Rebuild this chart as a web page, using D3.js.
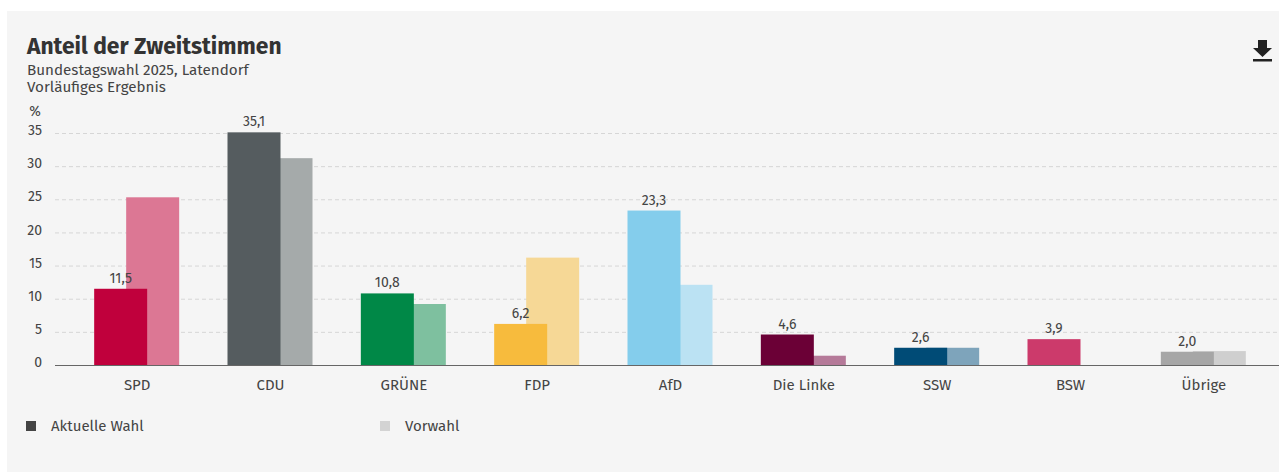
<!DOCTYPE html>
<html lang="de">
<head>
<meta charset="UTF-8">
<title>Anteil der Zweitstimmen</title>
<style>
    body { margin:0; background:#fff; }
    svg { display:block; font-family:"Fira Sans","Open Sans",sans-serif; }
</style>
</head>
<body>
<script src="https://cdn.jsdelivr.net/npm/d3@7"></script>
<script>
    var parties  = ["SPD","CDU","GRÜNE","FDP","AfD","Die Linke","SSW","BSW","Übrige"];
    var current  = [11.5, 35.1, 10.8, 6.2, 23.3, 4.6, 2.6, 3.9, 2.0];
    var previous = [25.3, 31.2, 9.2, 16.2, 12.1, 1.4, 2.6, null, 2.1];
    var colorNow  = ["#c0003c","#555c5f","#008847","#f7bb3d","#84cdec","#6b0036","#004b76","#cc3a6b","#a6a6a6"];
    var colorPrev = ["#dc7794","#a5aaaa","#7ec09f","#f6d896","#bbe2f3","#b57a99","#7ea4bb","#e595b0","#cfcfcf"];
    var yTicks = [0,5,10,15,20,25,30,35];

    var w = 1279, h = 472;
    var svg = d3.select("body").append("svg").attr("width",w).attr("height",h);

    // grauer Hintergrund
    svg.append("rect").attr("x",7).attr("y",11).attr("width",w-7).attr("height",h-11).attr("fill","#f5f5f5");

    svg.append("text").attr("x",27).attr("y",54).attr("font-size",22.8).attr("font-weight",700)
        .attr("fill","#333").text("Anteil der Zweitstimmen");
    svg.append("text").attr("x",27).attr("y",75).attr("font-size",15.2).attr("fill","#444")
        .text("Bundestagswahl 2025, Latendorf");
    svg.append("text").attr("x",27).attr("y",92).attr("font-size",15.2).attr("fill","#444")
        .text("Vorläufiges Ergebnis");

    // download icon
    var icon = svg.append("g").attr("fill","#222");
    icon.append("path").attr("d","M1258,40 H1267 V48 H1272 L1262.5,57 L1253,48 H1258 Z");
    icon.append("rect").attr("x",1253).attr("y",59).attr("width",19).attr("height",2.5);

    var x = d3.scaleBand().domain(parties).range([70.5,1270.5]);
    var y = d3.scaleLinear().domain([0,35]).range([365,133]);
    var barW = 53, shift = 32;

    // Gitterlinien
    svg.append("g").selectAll("line").data(yTicks.slice(1)).enter().append("line")
        .attr("x1",55).attr("x2",w).attr("y1",function(d){return y(d)+0.5;}).attr("y2",function(d){return y(d)+0.5;})
        .attr("stroke","#d6d6d6").attr("stroke-dasharray","4,3");

    var yAxis = svg.append("g").attr("transform","translate(42,0)")
        .call(d3.axisLeft(y).tickValues(yTicks).tickSize(0).tickPadding(0))
        .attr("font-family",null).attr("font-size",null);
    yAxis.select(".domain").remove();
    yAxis.selectAll("text").attr("font-size",14).attr("fill","#444").attr("dy","0.05em").attr("y",1);

    svg.append("text").attr("x",35).attr("y",116).attr("text-anchor","middle").attr("font-size",14)
        .attr("fill","#444").text("%");

    var groups = svg.append("g").selectAll("g").data(parties).enter().append("g")
        .attr("transform",function(d){ return "translate("+(x(d)+x.bandwidth()/2)+",0)"; });

    // Vorwahl hinten
    groups.filter(function(d,i){ return previous[i] != null; }).append("rect")
        .attr("x",shift-barW+10).attr("width",barW)
        .attr("y",function(d){ var i = parties.indexOf(d); return y(previous[i]); })
        .attr("height",function(d){ var i = parties.indexOf(d); return y(0)-y(previous[i]); })
        .attr("fill",function(d){ return colorPrev[parties.indexOf(d)]; });

    groups.append("rect")
        .attr("x",-43).attr("width",barW)
        .attr("y",function(d,i){ return y(current[i]); })
        .attr("height",function(d,i){ return y(0)-y(current[i]); })
        .attr("fill",function(d,i){ return colorNow[i]; });

    groups.append("text")
        .attr("x",-43+barW/2).attr("y",function(d,i){ return y(current[i])-6; })
        .attr("text-anchor","middle").attr("font-size",14).attr("fill","#444")
        .text(function(d,i){ return d3.format(".1f")(current[i]).replace(".",","); });

    var xAxis = svg.append("g").attr("transform","translate(0,"+y(0)+")")
        .call(d3.axisBottom(x).tickSize(0).tickPadding(14))
        .attr("font-family",null).attr("font-size",null);
    xAxis.select(".domain").attr("d","M55,0.5H"+w).attr("stroke","#666");
    xAxis.selectAll("text").attr("font-size",15).attr("fill","#444");

    // Legende
    var legend = [["Aktuelle Wahl","#444",26],["Vorwahl","#d3d3d3",380]];
    var lg = svg.append("g").selectAll("g").data(legend).enter().append("g");
    lg.append("rect").attr("x",function(d){return d[2];}).attr("y",421).attr("width",10).attr("height",10)
        .attr("fill",function(d){return d[1];});
    lg.append("text").attr("x",function(d){return d[2]+25;}).attr("y",431).attr("font-size",15)
        .attr("fill","#444").text(function(d){return d[0];});
</script>
</body>
</html>
